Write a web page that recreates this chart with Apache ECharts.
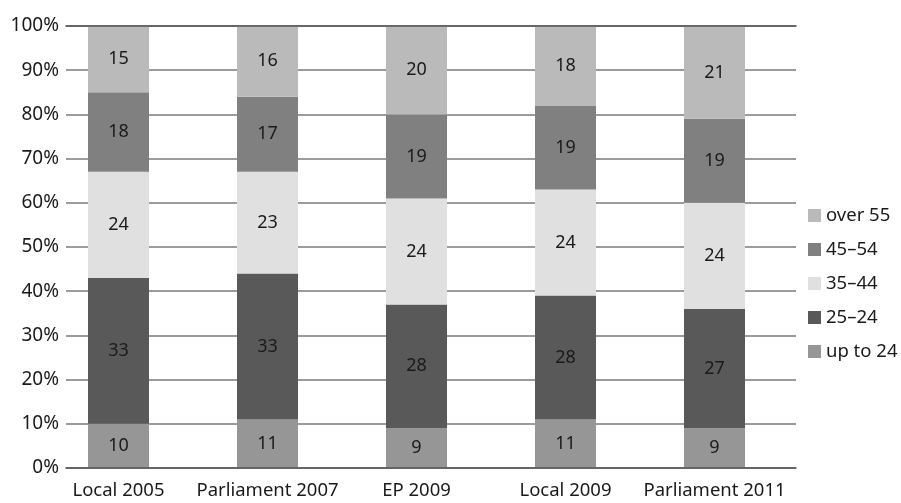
<!DOCTYPE html>
<html>
<head>
<meta charset="utf-8">
<script src="https://cdn.jsdelivr.net/npm/echarts@6/dist/echarts.min.js"></script>
<style>
  html, body { margin: 0; padding: 0; background: #fff; }
  #main { width: 901px; height: 503px; }
</style>
</head>
<body>
<div id="main"></div>
<script>
var categories = ['Local 2005', 'Parliament 2007', 'EP 2009', 'Local 2009', 'Parliament 2011'];
var upTo24 = [10, 11, 9, 11, 9];
var age25 = [33, 33, 28, 28, 27];
var age35 = [24, 23, 24, 24, 24];
var age45 = [18, 17, 19, 19, 19];
var over55 = [15, 16, 20, 18, 21];
var seriesNames = ['up to 24', '25\u201324', '35\u201344', '45\u201354', 'over 55'];
var colors = ['#969696', '#595959', '#e0e0e0', '#808080', '#bababa'];

var myChart = echarts.init(document.getElementById('main'));
var font = 'Noto Sans';

var values = [upTo24, age25, age35, age45, over55];
var series = values.map(function (v, i) {
    return {
        name: seriesNames[i],
        type: 'bar',
        stack: 'total',
        xAxisIndex: 1,
        yAxisIndex: 1,
        barWidth: 61,
        itemStyle: { color: colors[i] },
        label: {
            show: true,
            position: 'inside',
            color: '#1a1a1a',
            fontFamily: font,
            fontSize: 18
        },
        data: v
    };
});

var option = {
    color: colors,
    animation: false,
    grid: [
        { left: 66, right: 105, top: 26, bottom: 35 },
        { left: 44, width: 745, top: 26, bottom: 35 }
    ],
    legend: {
        orient: 'vertical',
        left: 803,
        top: 201,
        itemWidth: 13,
        itemHeight: 13,
        itemGap: 15,
        icon: 'rect',
        data: seriesNames.slice().reverse(),
        textStyle: { fontFamily: font, fontSize: 18.5, color: '#1a1a1a' }
    },
    xAxis: [
        {
            type: 'category', gridIndex: 0, data: categories, z: 10,
            axisLine: { show: true, lineStyle: { color: '#555', width: 1.5 } },
            axisTick: { show: false }, axisLabel: { show: false }
        },
        {
            type: 'category', gridIndex: 1, data: categories,
            axisLine: { show: false }, axisTick: { show: false },
            axisLabel: { interval: 0, fontFamily: font, fontSize: 18.5, color: '#1a1a1a', margin: 13 }
        },
        {
            type: 'category', gridIndex: 0, position: 'top', data: categories, z: 10,
            axisLine: { show: true, lineStyle: { color: '#555', width: 1.5 } },
            axisTick: { show: false }, axisLabel: { show: false }
        }
    ],
    yAxis: [
        {
            type: 'value', gridIndex: 0, min: 0, max: 100, interval: 10,
            axisLine: { show: false }, axisTick: { show: false },
            axisLabel: { formatter: '{value}%', fontFamily: font, fontSize: 19, color: '#1a1a1a', margin: 7 },
            splitLine: { lineStyle: { color: '#7a7a7a', width: 1.5 } }
        },
        {
            type: 'value', gridIndex: 1, min: 0, max: 100,
            show: false, splitLine: { show: false }
        }
    ],
    series: series
};
myChart.setOption(option);
</script>
</body>
</html>
